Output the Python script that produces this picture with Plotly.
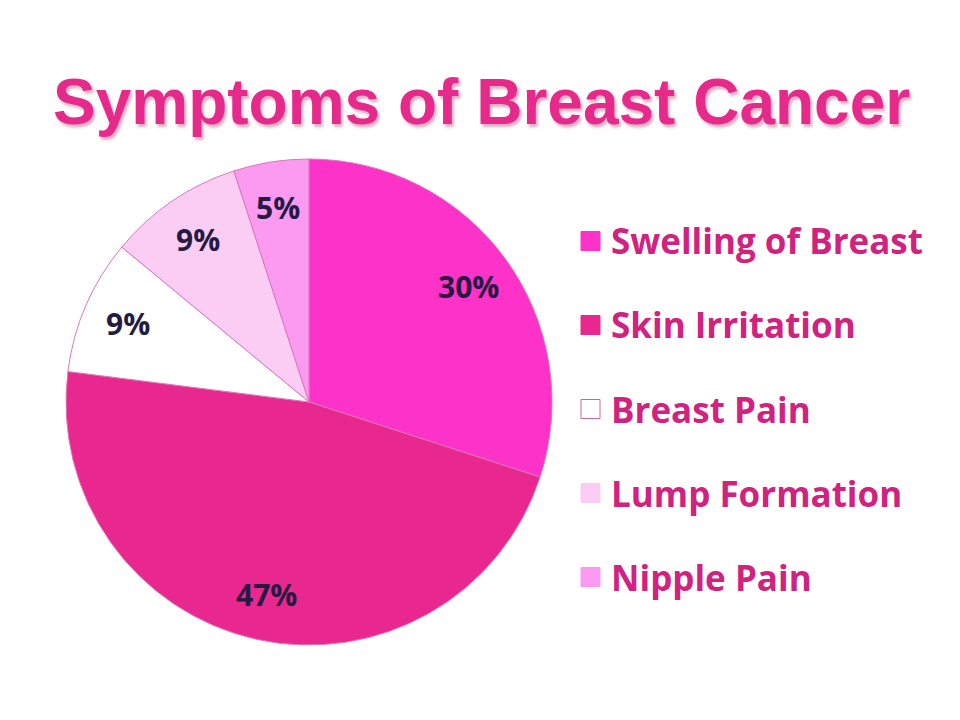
import numpy as np
import plotly.graph_objects as go

labels = ["Swelling of Breast", "Skin Irritation", "Breast Pain", "Lump Formation", "Nipple Pain"]
values = [30, 47, 9, 9, 5]
colors = ["#fc32c9", "#e8288e", "#ffffff", "#fccdf4", "#fc9af1"]
title = "Symptoms of Breast Cancer"

W, H = 960, 720
cx, cy, R = 309, 402, 243  # pie centre / radius in pixels

fig = go.Figure()
fig.add_trace(go.Pie(
    labels=labels,
    values=values,
    sort=False,
    direction="clockwise",
    rotation=0,
    marker=dict(colors=colors, line=dict(color="#d977bd", width=1)),
    textinfo="none",
    hoverinfo="label+percent",
    showlegend=False,
    domain=dict(x=[(cx - R) / W, (cx + R) / W], y=[(H - cy - R) / H, (H - cy + R) / H]),
))

# percentage labels at the slice mid-angles
total = sum(values)
cum = np.cumsum([0] + values)
for i, v in enumerate(values):
    mid = (cum[i] + v / 2) / total * 2 * np.pi
    rr = 0.81 * R
    px = cx + rr * np.sin(mid)
    py = cy - rr * np.cos(mid)
    fig.add_annotation(
        x=px / W, y=1 - py / H, xref="paper", yref="paper",
        xanchor="center", yanchor="middle",
        text=f"<b>{round(v / total * 100)}%</b>", showarrow=False,
        font=dict(family="Open Sans, sans-serif", size=30, color="#241a42"),
    )

# legend drawn by hand so spacing matches
lx, ly0, gap, sq = 581, 241, 84, 19
for i, (lab, col) in enumerate(zip(labels, colors)):
    y = ly0 + i * gap
    fig.add_shape(
        type="rect", xref="paper", yref="paper",
        x0=lx / W, x1=(lx + sq) / W, y0=1 - (y + sq / 2) / H, y1=1 - (y - sq / 2) / H,
        fillcolor=col, line=dict(color="#c86aa8" if col == "#ffffff" else col, width=1),
    )
    fig.add_annotation(
        x=(lx + sq + 9) / W, y=1 - y / H, xref="paper", yref="paper",
        xanchor="left", yanchor="middle", text=f"<b>{lab}</b>", showarrow=False,
        font=dict(family="Open Sans, sans-serif", size=35, color="#d0227f"),
    )

fig.add_annotation(
    x=481 / W, y=1 - 102 / H, xref="paper", yref="paper",
    xanchor="center", yanchor="middle",
    text=f"<b>{title}</b>", showarrow=False,
    font=dict(family="Liberation Sans, Arial, sans-serif", size=64, color="#e62a8c",
              shadow="2px 3px 3px rgba(140,20,80,0.35)"),
)

fig.update_layout(
    width=W, height=H,
    margin=dict(l=0, r=0, t=0, b=0),
    paper_bgcolor="white",
    plot_bgcolor="white",
)

fig.write_html("out.html", config={"displayModeBar": False},
               post_script="document.body.style.margin='0px';")
